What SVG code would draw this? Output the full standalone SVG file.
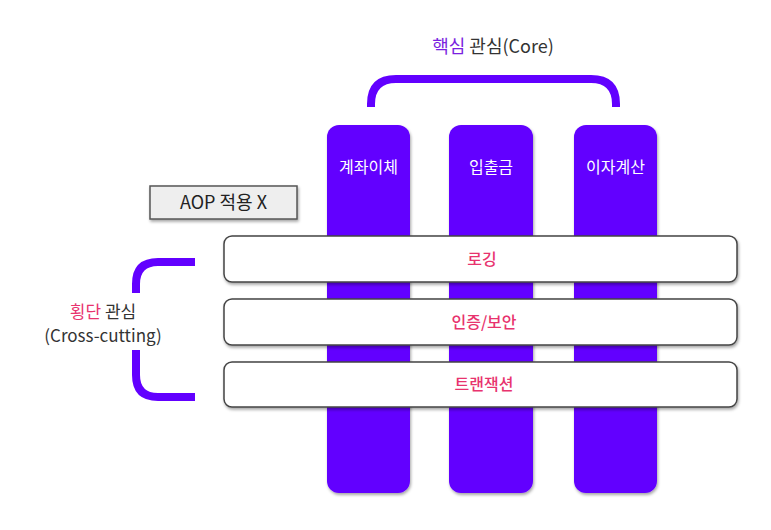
<svg xmlns="http://www.w3.org/2000/svg" width="771" height="530" viewBox="0 0 771 530">
<style>
  .t { font-family: "Noto Sans CJK KR", "Noto Sans", sans-serif; }
  .col { fill: #6200ff; filter: url(#sh); }
  .bar { fill: #ffffff; stroke: #444; stroke-width: 1.5; filter: url(#sh); }
  .colText { fill: #ffffff; font-size: 16px; text-anchor: middle; }
  .barText { fill: #e8336e; font-size: 16px; text-anchor: middle; font-weight: 500; }
  .brk { fill: none; stroke: #6200ff; stroke-width: 8; }
</style>
<defs>
  <filter id="sh" x="-10%" y="-10%" width="120%" height="130%">
    <feDropShadow dx="1" dy="2" stdDeviation="1.5" flood-color="#000" flood-opacity="0.35"/>
  </filter>
</defs>
<rect width="771" height="530" fill="#ffffff"/>
<g id="connectors">
  <path class="brk" d="M371 107 V104 Q371 79 396 79 H591 Q616 79 616 104 V107"/>
  <path class="brk" d="M195 262 H158 Q136 262 136 284 V293"/>
  <path class="brk" d="M195 397 H158 Q136 397 136 375 V350"/>
</g>
<g id="title">
  <text class="t" x="493" y="53" font-size="18" text-anchor="middle"><tspan fill="#7b1fe0">핵심</tspan><tspan fill="#333"> 관심(Core)</tspan></text>
</g>
<g id="col1"><rect class="col" x="327" y="125" width="83" height="368" rx="12"/><text class="t colText" x="368.5" y="173">계좌이체</text></g>
<g id="col2"><rect class="col" x="449" y="125" width="84" height="368" rx="12"/><text class="t colText" x="491" y="173">입출금</text></g>
<g id="col3"><rect class="col" x="574" y="125" width="83" height="368" rx="12"/><text class="t colText" x="615.5" y="173">이자계산</text></g>
<g id="aop">
  <rect x="150" y="186" width="147" height="33" fill="#eeeeee" stroke="#555" stroke-width="1.5" filter="url(#sh)"/>
  <text class="t" x="223.5" y="209" font-size="18" fill="#222" text-anchor="middle">AOP 적용 X</text>
</g>
<g id="bar1"><rect class="bar" x="224" y="236" width="513" height="46" rx="8"/><text class="t barText" x="482" y="265">로깅</text></g>
<g id="bar2"><rect class="bar" x="224" y="299" width="513" height="46" rx="8"/><text class="t barText" x="484" y="328">인증/보안</text></g>
<g id="bar3"><rect class="bar" x="224" y="362" width="513" height="45" rx="8"/><text class="t barText" x="484" y="390">트랜잭션</text></g>
<g id="crossLabel">
  <text class="t" x="103" y="318" font-size="17" text-anchor="middle"><tspan fill="#e8336e">횡단</tspan><tspan fill="#333"> 관심</tspan></text>
  <text class="t" x="103" y="342" font-size="17" fill="#333" text-anchor="middle">(Cross-cutting)</text>
</g>
</svg>
